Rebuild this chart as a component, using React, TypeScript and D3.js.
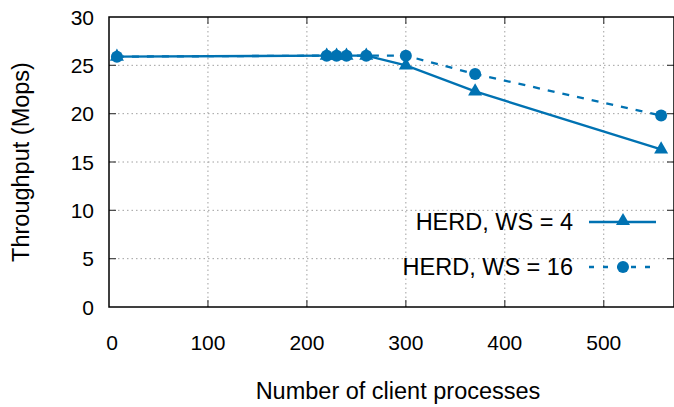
import { useEffect, useRef } from "react";
import * as d3 from "d3";

// x = number of client processes, y = throughput in Mops
const clients = [8, 220, 230, 240, 260, 300, 370, 558];
const ws4 = [25.9, 26.0, 26.0, 26.0, 26.0, 25.0, 22.3, 16.3];
const ws16 = [25.9, 26.0, 26.0, 26.0, 26.0, 26.0, 24.1, 19.8];
const xTicks = [0, 100, 200, 300, 400, 500];
const yTicks = [0, 5, 10, 15, 20, 25, 30];
const seriesNames = ["HERD, WS = 4", "HERD, WS = 16"];

const W = 674;
const H = 407;
const BLUE = "#0072b2";
const FONT = "'Liberation Sans', Arial, sans-serif";

function App() {
  const svgRef = useRef<SVGSVGElement | null>(null);

  useEffect(() => {
    if (!svgRef.current) return;
    const svg = d3.select(svgRef.current);
    svg.selectAll("*").remove();

    const margin = { left: 109, right: 0, top: 17, bottom: 100 };
    const x = d3.scaleLinear().domain([0, 571]).range([margin.left, W - margin.right]);
    const y = d3.scaleLinear().domain([0, 30]).range([H - margin.bottom, margin.top]);
    const x0 = x.range()[0], x1 = x.range()[1];
    const y0 = y.range()[0], y1 = y.range()[1];

    // dotted grid
    const grid = svg.append("g");
    xTicks.slice(1).forEach((t) => {
      grid.append("line")
        .attr("x1", x(t)).attr("x2", x(t)).attr("y1", y0).attr("y2", y1)
        .attr("stroke", "#a0a0a0").attr("stroke-width", 1).attr("stroke-dasharray", "1.5,3");
    });
    yTicks.slice(1, -1).forEach((t) => {
      grid.append("line")
        .attr("x1", x0).attr("x2", x1).attr("y1", y(t)).attr("y2", y(t))
        .attr("stroke", "#a0a0a0").attr("stroke-width", 1).attr("stroke-dasharray", "1.5,3");
    });

    // ticks (inward, mirrored)
    const ticks = svg.append("g").attr("stroke", "#444").attr("stroke-width", 1.2);
    xTicks.slice(1).forEach((t) => {
      ticks.append("line").attr("x1", x(t)).attr("x2", x(t)).attr("y1", y0).attr("y2", y0 - 7);
      ticks.append("line").attr("x1", x(t)).attr("x2", x(t)).attr("y1", y1).attr("y2", y1 + 7);
    });
    yTicks.slice(1, -1).forEach((t) => {
      ticks.append("line").attr("x1", x0).attr("x2", x0 + 7).attr("y1", y(t)).attr("y2", y(t));
      ticks.append("line").attr("x1", x1).attr("x2", x1 - 7).attr("y1", y(t)).attr("y2", y(t));
    });

    // border
    svg.append("rect")
      .attr("x", x0).attr("y", y1).attr("width", x1 - x0).attr("height", y0 - y1)
      .attr("fill", "none").attr("stroke", "#000").attr("stroke-width", 1.5);

    // tick labels
    svg.append("g").selectAll("text").data(xTicks).enter().append("text")
      .attr("x", (d) => x(d) + (d === 0 ? 3 : 0)).attr("y", 350)
      .attr("text-anchor", "middle")
      .attr("font-family", FONT).attr("font-size", 21).attr("fill", "#000")
      .text((d) => d);
    svg.append("g").selectAll("text").data(yTicks).enter().append("text")
      .attr("x", 94).attr("y", (d) => y(d) + 7.5)
      .attr("text-anchor", "end")
      .attr("font-family", FONT).attr("font-size", 21).attr("fill", "#000")
      .text((d) => d);

    // axis titles
    svg.append("text")
      .attr("x", 398).attr("y", 399).attr("text-anchor", "middle")
      .attr("font-family", FONT).attr("font-size", 23.5).text("Number of client processes");
    svg.append("text")
      .attr("transform", `translate(29,${(y0 + y1) / 2}) rotate(-90)`)
      .attr("text-anchor", "middle")
      .attr("font-family", FONT).attr("font-size", 23.5).text("Throughput (Mops)");

    const line = d3.line<number>().x((_, i) => x(clients[i])).y((d) => y(d));
    const tri = d3.symbol().type(d3.symbolTriangle).size(85);

    const plot = svg.append("g");
    // WS = 4 (solid, triangles)
    plot.append("path").datum(ws4)
      .attr("d", line).attr("fill", "none").attr("stroke", BLUE).attr("stroke-width", 2.3);
    plot.selectAll(".t").data(ws4).enter().append("path")
      .attr("transform", (d, i) => `translate(${x(clients[i])},${y(d)})`)
      .attr("d", tri).attr("fill", BLUE);
    // WS = 16 (dashed, circles), drawn on top
    plot.append("path").datum(ws16)
      .attr("d", line).attr("fill", "none").attr("stroke", BLUE)
      .attr("stroke-width", 2.3).attr("stroke-dasharray", "7,8");
    plot.selectAll(".c").data(ws16).enter().append("circle")
      .attr("cx", (_, i) => x(clients[i])).attr("cy", (d) => y(d))
      .attr("r", 6).attr("fill", BLUE);

    // legend
    const leg = svg.append("g");
    const rows = [222, 267];
    seriesNames.forEach((name, i) => {
      const ly = rows[i];
      leg.append("text")
        .attr("x", 573).attr("y", ly + 7.5).attr("text-anchor", "end")
        .attr("font-family", FONT).attr("font-size", 23.5).text(name);
      leg.append("line")
        .attr("x1", 589).attr("x2", 656).attr("y1", ly).attr("y2", ly)
        .attr("stroke", BLUE).attr("stroke-width", 2.3)
        .attr("stroke-dasharray", i === 1 ? "5,9" : null);
      if (i === 0) {
        leg.append("path").attr("transform", `translate(623,${ly - 1})`).attr("d", tri).attr("fill", BLUE);
      } else {
        leg.append("circle").attr("cx", 623).attr("cy", ly).attr("r", 6).attr("fill", BLUE);
      }
    });
  }, []);

  return (
    <svg
      ref={svgRef}
      width={W}
      height={H}
      style={{ position: "absolute", left: 0, top: 0, background: "#fff" }}
    />
  );
}

export default App;
